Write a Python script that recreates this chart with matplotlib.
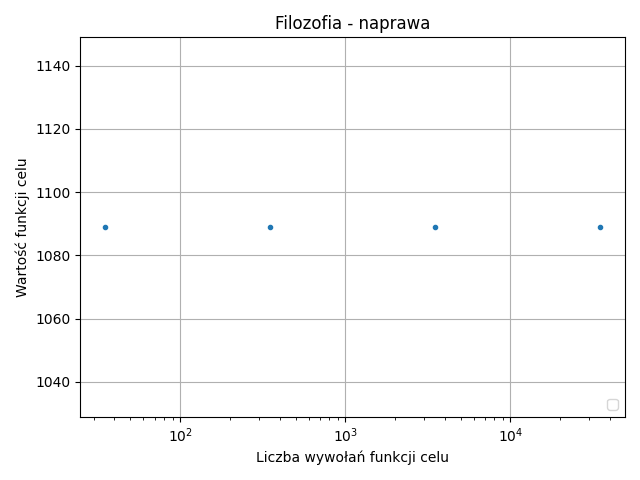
import matplotlib
matplotlib.use("Agg")
import matplotlib.pyplot as plt

calls = [35, 350, 3500, 35000]
values = [1089, 1089, 1089, 1089]

fig, ax = plt.subplots(figsize=(6.4, 4.8), dpi=100)
ax.plot(calls, values, '.')
ax.set_xscale('log')
ax.set_ylim(1029, 1149)
ax.set_title('Filozofia - naprawa')
ax.set_xlabel('Liczba wywołań funkcji celu')
ax.set_ylabel('Wartość funkcji celu')
ax.grid(True)
ax.legend(handles=[], loc='lower right')
fig.tight_layout()
fig.savefig('out.png')
